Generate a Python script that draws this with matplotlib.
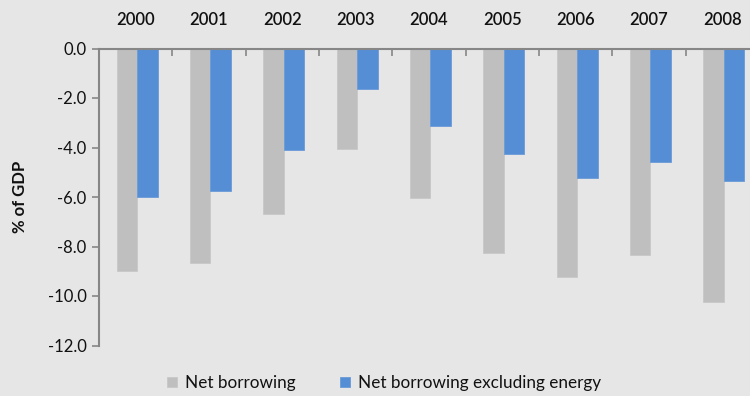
import matplotlib
matplotlib.use("Agg")
import matplotlib.pyplot as plt
import numpy as np
from matplotlib.ticker import FixedLocator, FormatStrFormatter

plt.rcParams['font.family'] = ['Lato', 'DejaVu Sans']

years = ["2000", "2001", "2002", "2003", "2004", "2005", "2006", "2007", "2008"]
net_borrowing = [-9.0, -8.65, -6.7, -4.05, -6.05, -8.25, -9.22, -8.36, -10.26]
net_borrowing_ex_energy = [-6.0, -5.77, -4.1, -1.64, -3.12, -4.28, -5.25, -4.57, -5.37]
yticks = [0.0, -2.0, -4.0, -6.0, -8.0, -10.0, -12.0]

bg = "#e6e6e6"
gray = "#bfbfbf"
blue = "#558ed5"
axis_col = "#868686"

fig = plt.figure(figsize=(7.5, 3.96), dpi=100, facecolor=bg)
ax = fig.add_axes([99 / 750, 50.5 / 396, 660 / 750, 297 / 396])
ax.set_facecolor(bg)

x = np.arange(len(years))
w = 0.28
ax.bar(x - w / 2 + 0.02, net_borrowing, width=w, color=gray, edgecolor="#c8c8c8",
       linewidth=0.6, label="Net borrowing", zorder=2)
ax.bar(x + w / 2 + 0.02, net_borrowing_ex_energy, width=w, color=blue, edgecolor="#6a9bd8",
       linewidth=0.6, label="Net borrowing excluding energy", zorder=2)

ax.set_xlim(-0.5, len(years) - 0.5)
ax.set_ylim(-12, 0)

# categories on top, separator ticks pointing into the plot
ax.xaxis.set_ticks_position("top")
ax.set_xticks(x)
ax.set_xticklabels(years, fontsize=12, fontweight="semibold", color="#111111")
ax.tick_params(axis="x", which="major", length=0, pad=14.5)
ax.xaxis.set_minor_locator(FixedLocator(np.arange(0.5, len(years) - 0.5, 1.0)))
ax.tick_params(axis="x", which="minor", direction="in", length=5, width=1.2,
               color=axis_col, top=True, bottom=False)

ax.set_yticks(yticks)
ax.yaxis.set_major_formatter(FormatStrFormatter("%.1f"))
ax.tick_params(axis="y", direction="out", length=5, width=1.2, color=axis_col,
               labelsize=12, labelcolor="#111111", pad=4)

for side in ("bottom", "right"):
    ax.spines[side].set_visible(False)
for side in ("top", "left"):
    ax.spines[side].set_color(axis_col)
    ax.spines[side].set_linewidth(1.5)

ax.set_ylabel("% of GDP", fontsize=12, fontweight="bold", color="#111111", labelpad=14)

leg = fig.legend(loc="center", bbox_to_anchor=(384 / 750, 1 - 383 / 396), ncol=2,
                 frameon=False, fontsize=12.3, handlelength=0.6, handleheight=0.6,
                 handletextpad=0.45, columnspacing=2.6)
for t in leg.get_texts():
    t.set_color("#111111")

fig.savefig("out.png", dpi=100, facecolor=bg)
